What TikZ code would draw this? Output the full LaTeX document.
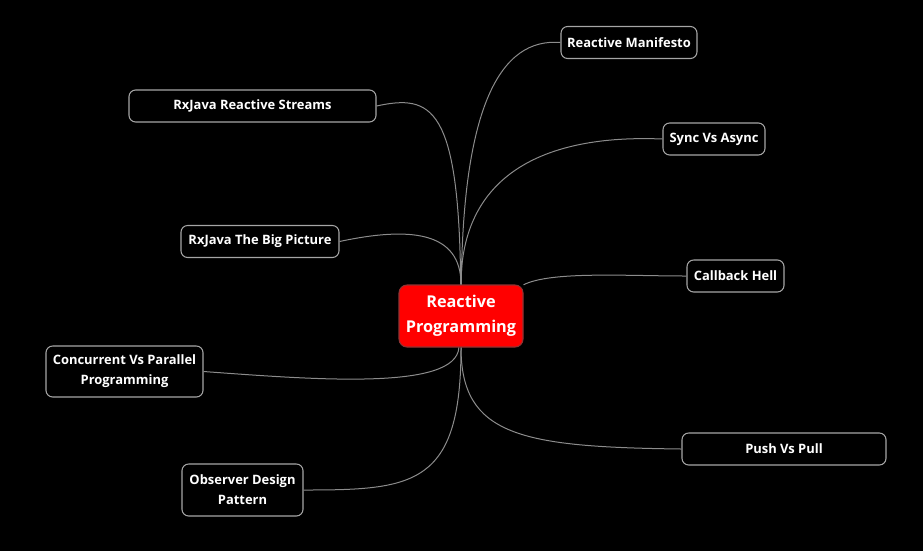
\documentclass[tikz,border=0pt]{standalone}
\usepackage{fontspec}
\setmainfont{Open Sans}
\begin{document}
\begin{tikzpicture}[x=0.75pt,y=-0.75pt,
	topic/.style={draw=black!35,fill=black,text=white,rounded corners=5pt,line width=0.8pt,
		font=\bfseries\fontsize{9.7}{15}\selectfont,align=center,minimum height=24pt,inner sep=3pt},
	root/.style={draw=red!45!black!80,fill=red,text=white,rounded corners=6pt,line width=0.8pt,
		font=\bfseries\fontsize{12.2}{18.5}\selectfont,align=center,minimum width=93pt,minimum height=46.5pt},
	link/.style={draw=black!45,line width=0.75pt}]
	\fill [black] (0,0) rectangle (923,551);
	\node [root] (c) at (461,316) {Reactive\\Programming};
	\node [topic,minimum width=102pt] (rm) at (629,42.5) {Reactive Manifesto};
	\node [topic,minimum width=76.5pt] (sa) at (714,139) {Sync Vs Async};
	\node [topic,minimum width=72.75pt] (ch) at (735.5,276) {Callback Hell};
	\node [topic,minimum width=153pt] (pp) at (784,449) {Push Vs Pull};
	\node [topic,minimum width=90.75pt,minimum height=39pt] (od) at (242.5,490) {Observer Design\\Pattern};
	\node [topic,minimum width=117.75pt,minimum height=38.25pt] (cp) at (124.5,371.5) {Concurrent Vs Parallel\\Programming};
	\node [topic,minimum width=118.5pt] (bp) at (260,241.5) {RxJava The Big Picture};
	\node [topic,minimum width=185.25pt] (rs) at (252.5,106) {RxJava Reactive Streams};
	\draw [link] (c) .. controls +(2,-210) and +(-60,-5) .. (rm.west);
	\draw [link] (c) .. controls +(0,-140) and +(-120,-5) .. (sa.west);
	\draw [link] (c) .. controls +(90,-45) and +(-60,0) .. (ch.west);
	\draw [link] (c) .. controls +(0,120) and +(-160,-2) .. (pp.west);
	\draw [link] (c) .. controls +(0,170) and +(110,0) .. (od.east);
	\draw [link] (c) .. controls +(-5,75) and +(110,8) .. (cp.east);
	\draw [link] (c) .. controls +(0,-85) and +(70,-15) .. (bp.east);
	\draw [link] (c) .. controls +(-2,-210) and +(55,-12) .. (rs.east);
\end{tikzpicture}
\end{document}
